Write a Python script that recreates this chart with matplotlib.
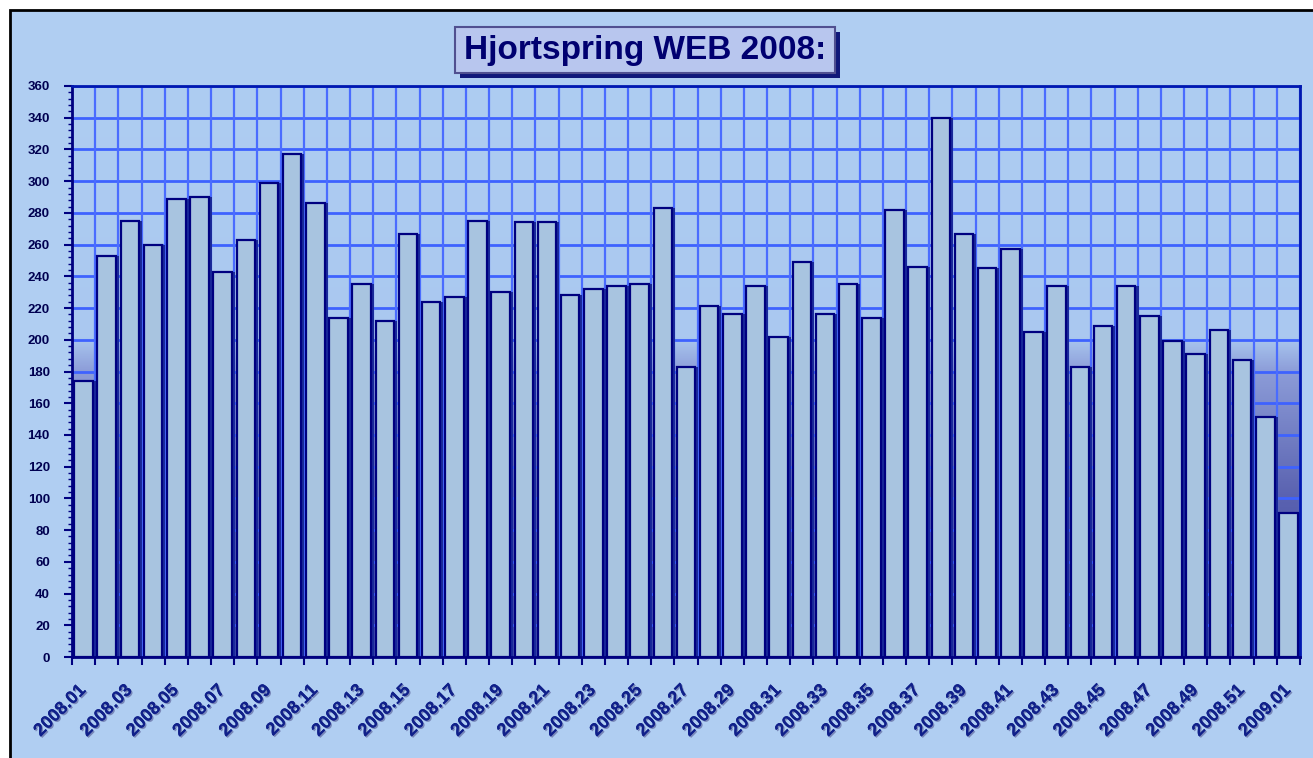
import numpy as np
import matplotlib
matplotlib.use('Agg')
import matplotlib.pyplot as plt
from matplotlib.patches import Rectangle
from matplotlib.colors import LinearSegmentedColormap
import matplotlib.patheffects as pe

plt.rcParams['font.family'] = ['Liberation Sans', 'DejaVu Sans']

# weekly values
weeks = ['2008.%02d' % i for i in range(1, 53)] + ['2009.01']
visits = [174, 253, 275, 260, 289, 290, 243, 263, 299, 317,
          286, 214, 235, 212, 267, 224, 227, 275, 230, 274,
          274, 228, 232, 234, 235, 283, 183, 221, 216, 234,
          202, 249, 216, 235, 214, 282, 246, 340, 267, 245,
          257, 205, 234, 183, 209, 234, 215, 199, 191, 206,
          187, 151, 91]
y_ticks = list(range(0, 361, 20))

navy = '#000080'
bg = '#B0CEF2'

fig = plt.figure(figsize=(13.13, 7.58), dpi=100, facecolor='white')

# outer chart area with black border on left/top
fig.patches.append(Rectangle((10 / 1313, -0.02), 1.02, 1.02 - 10 / 758,
                             transform=fig.transFigure, facecolor=bg,
                             edgecolor='black', lw=2, zorder=-5))

ax = fig.add_axes([72 / 1313, 1 - 657 / 758, (1300 - 72) / 1313, (657 - 86) / 758])
ax.set_facecolor(bg)

x = np.arange(len(weeks))
ax.set_xlim(-0.5, len(weeks) - 0.5)
ax.set_ylim(0, 360)

# plot area gradient, darker towards the bottom below 200
grad_cmap = LinearSegmentedColormap.from_list('g', [(0, '#3c44a0'), (0.28, '#5a62b0'),
                                                     (0.5, '#8c9cd8'), (0.56, '#aac8f0'),
                                                     (1, '#aecdf2')])
grad = np.linspace(0, 1, 256).reshape(-1, 1)
ax.imshow(grad, aspect='auto', cmap=grad_cmap, origin='lower',
          extent=[-0.5, len(weeks) - 0.5, 0, 360], zorder=0)

# grid
for yv in y_ticks:
    ax.axhline(yv, color='#3e62ff', lw=2, zorder=1)
for xb in np.arange(-0.5, len(weeks), 1.0):
    ax.axvline(xb, color='#4a6cff', lw=1.6, zorder=1)

# bar shadows, then bars
ax.bar(x + 0.13, visits, width=0.8, color='#1a2a9a', zorder=2)
ax.bar(x, visits, width=0.8, color='#A8C4E0', edgecolor=navy, lw=1.6, zorder=3)

# axes
for s in ax.spines.values():
    s.set_color('#0018b0')
    s.set_linewidth(2)
ax.spines['left'].set_color(navy)
ax.spines['bottom'].set_color(navy)

ax.set_yticks(y_ticks)
ax.set_yticks(np.arange(0, 361, 4), minor=True)
ax.tick_params(axis='y', which='major', length=6, width=1.5, color=navy,
               labelsize=9.5, labelcolor='#000050', pad=10)
ax.tick_params(axis='y', which='minor', length=3, width=1, color=navy)
for lab in ax.get_yticklabels():
    lab.set_fontweight('bold')

# x: tick marks at boundaries, labels every other week at bar centres
ax.set_xticks(np.arange(-0.5, len(weeks), 1.0))
ax.set_xticklabels([])
ax.tick_params(axis='x', which='major', length=6, width=1.5, color=navy)
ax.set_xticks(x[::2], minor=True)
ax.set_xticklabels(weeks[::2], minor=True, rotation=45, ha='right', va='center',
                   rotation_mode='anchor', fontsize=13, fontweight='bold',
                   color='#10208a')
ax.tick_params(axis='x', which='minor', length=0, pad=22)
for lab in ax.get_xticklabels(minor=True):
    lab.set_path_effects([pe.withSimplePatchShadow(offset=(1, -1), shadow_rgbFace='#404080', alpha=0.5),
                          pe.Normal()])

# title box with shadow
bx, by, bw, bh = 455 / 1313, 1 - 73 / 758, 380 / 1313, 46 / 758
fig.patches.append(Rectangle((bx + 5 / 1313, by - 5 / 758), bw, bh, transform=fig.transFigure,
                             facecolor='#10187a', edgecolor='none', zorder=5))
fig.patches.append(Rectangle((bx, by), bw, bh, transform=fig.transFigure,
                             facecolor='#B8C6EE', edgecolor='#505090', lw=1.5, zorder=6))
fig.text(645 / 1313, 1 - 50 / 758, 'Hjortspring WEB 2008:', ha='center', va='center',
         fontsize=24, fontweight='bold', color='#000070', zorder=7)

fig.savefig('out.png', dpi=100, facecolor=fig.get_facecolor())
